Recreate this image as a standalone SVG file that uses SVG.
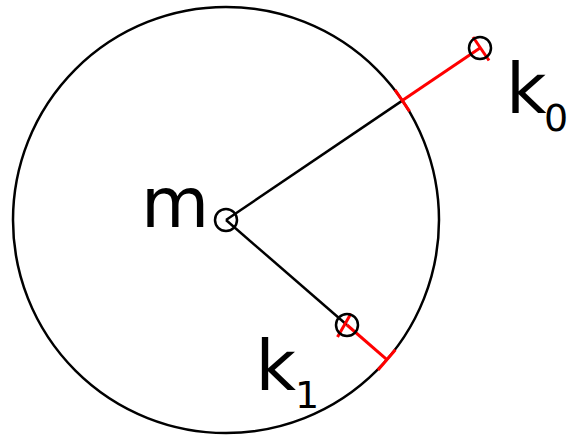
<svg xmlns="http://www.w3.org/2000/svg" width="568" height="435" viewBox="0 0 568 435">
<style>
.k{fill:none;stroke:#000;stroke-width:2.5}
.r{fill:none;stroke:#f00;stroke-width:3}
.t{font-family:"DejaVu Sans",sans-serif;fill:#000}
</style>
<rect width="568" height="435" fill="#fff"/>
<g id="circle"><ellipse class="k" cx="226" cy="220" rx="213" ry="213"/></g>
<g id="connectors">
<line class="k" x1="226" y1="220" x2="402.3" y2="100.6"/>
<line class="k" x1="226" y1="220" x2="347" y2="325"/>
<line class="r" x1="402.3" y1="100.6" x2="480" y2="48"/>
<line class="r" x1="395" y1="89.8" x2="409.6" y2="111.4"/>
<line class="r" x1="473" y1="37" x2="489" y2="60.5"/>
<line class="r" x1="347" y1="325" x2="386.9" y2="359.6"/>
<line class="r" x1="395.4" y1="349.8" x2="378" y2="370"/>
<line class="r" x1="351" y1="313.5" x2="337.5" y2="337"/>
</g>
<g id="m"><circle class="k" cx="226" cy="220" r="11"/><text class="t" x="141" y="227" font-size="70">m</text></g>
<g id="k0"><circle class="k" cx="480" cy="48" r="11"/><text class="t" x="506" y="113" font-size="70">k<tspan x="544" y="131" font-size="38">0</tspan></text></g>
<g id="k1"><circle class="k" cx="347" cy="325" r="11"/><text class="t" x="255.5" y="390" font-size="70">k<tspan x="295" y="408" font-size="38">1</tspan></text></g>
</svg>
